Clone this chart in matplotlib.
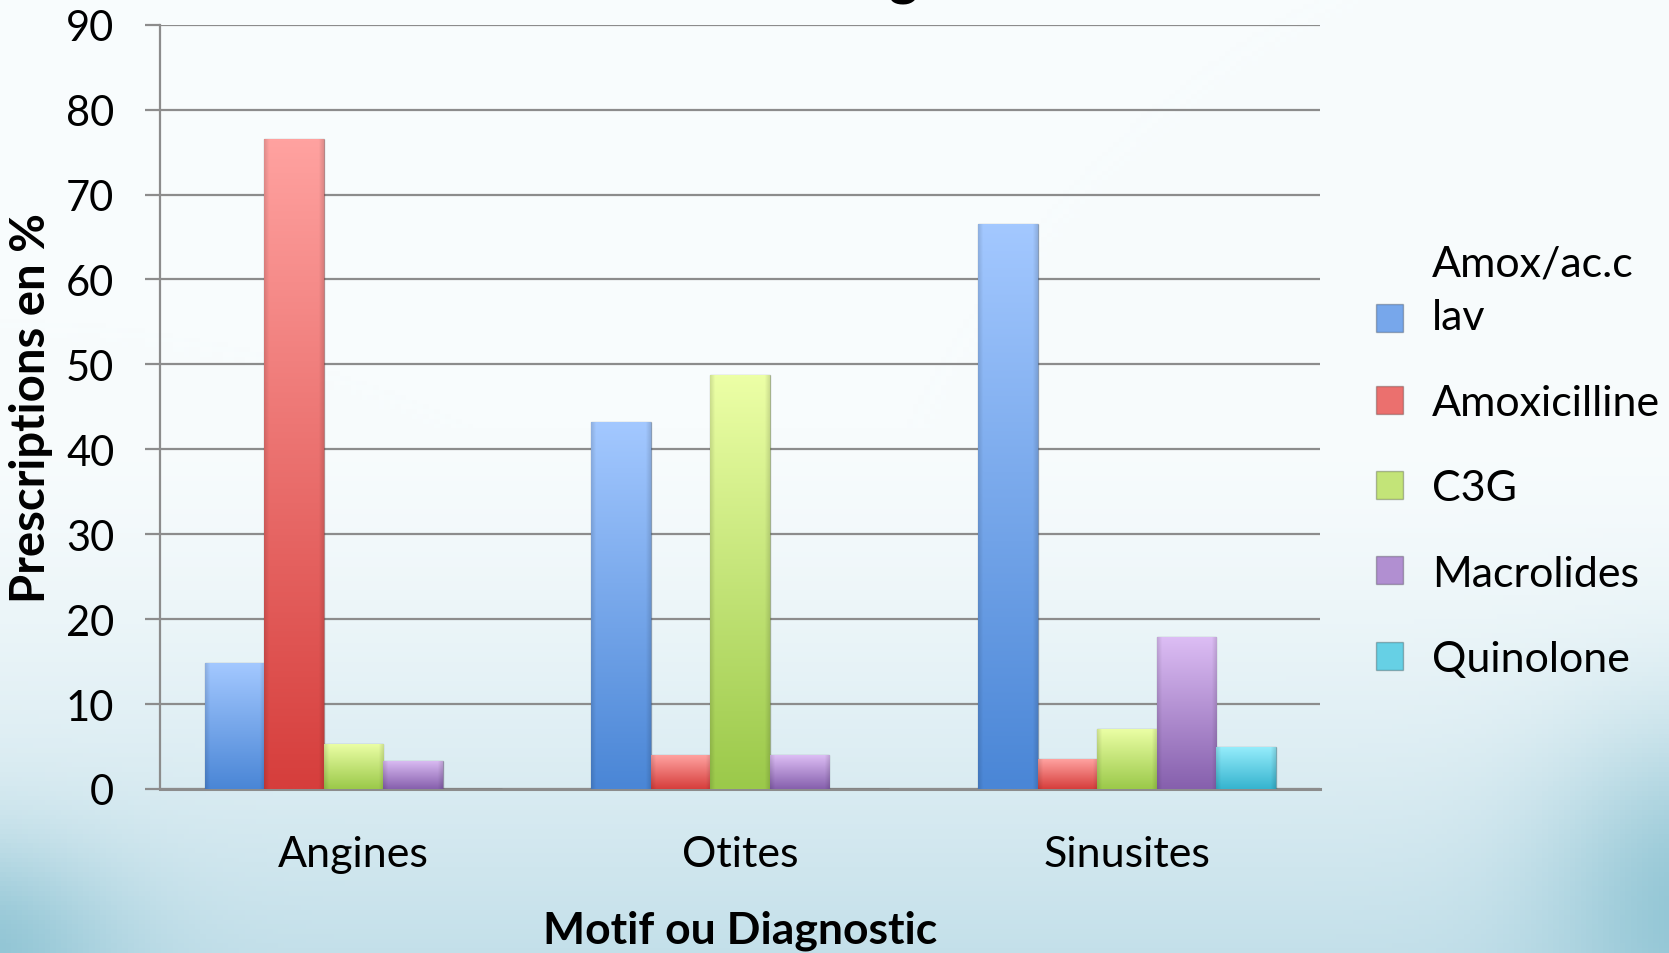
import numpy as np
import matplotlib.pyplot as plt
from matplotlib.colors import to_rgb
from matplotlib.patches import Patch

plt.rcParams['font.family'] = ['Lato', 'DejaVu Sans']

# data (percent of prescriptions)
categories = ['Angines', 'Otites', 'Sinusites']
series = ['Amox/ac.c\nlav', 'Amoxicilline', 'C3G', 'Macrolides', 'Quinolone']
amox_clav = [14.8, 43.2, 66.5]
amoxicilline = [76.6, 4.0, 3.5]
c3g = [5.3, 48.7, 7.1]
macrolides = [3.3, 4.0, 17.9]
quinolone = [0.0, 0.0, 4.9]
values = [amox_clav, amoxicilline, c3g, macrolides, quinolone]

# (top colour, bottom colour) of each series
colors = [('#a3c8ff', '#4a86d6'),
          ('#ffa2a0', '#d63e3c'),
          ('#ecffa6', '#9bc94a'),
          ('#dcbdf4', '#8660ad'),
          ('#95ecfb', '#36b4cf')]

fig = plt.figure(figsize=(16.69, 9.54), dpi=100)

# slide-like background
bg = fig.add_axes([0, 0, 1, 1], zorder=-1)
ny, nx = 200, 300
yy, xx = np.mgrid[0:1:ny * 1j, 0:1:nx * 1j]
top_c = np.array(to_rgb('#f8fcfd'))
bot_c = np.array(to_rgb('#c4e0ea'))
t = np.clip((yy - 0.45) / 0.55, 0, 1) ** 1.4
img = top_c * (1 - t[..., None]) + bot_c * t[..., None]
# darker teal swirl near the bottom corners
corner = np.exp(-((xx - 1.02) ** 2 / 0.008 + (yy - 0.95) ** 2 / 0.03))
corner += np.exp(-((xx + 0.02) ** 2 / 0.008 + (yy - 1.0) ** 2 / 0.012))
teal = np.array(to_rgb('#6fb3c6'))
img = img * (1 - 0.6 * corner[..., None]) + teal * 0.6 * corner[..., None]
bg.imshow(img, extent=[0, 1, 0, 1], aspect='auto', origin='upper')
bg.axis('off')

ax = fig.add_axes([0.0959, 0.172, 0.6951, 0.801])
ax.set_facecolor('none')

n = len(series)
width = 1 / (n + 1.5)
x = np.arange(len(categories))
handles = []
for i, (name, vals, (ctop, cbot)) in enumerate(zip(series, values, colors)):
    pos = x + (i - (n - 1) / 2) * width
    mid = tuple((np.array(to_rgb(ctop)) + np.array(to_rgb(cbot))) / 2)
    bars = ax.bar(pos, vals, width, color=mid, edgecolor='#00000040',
                  linewidth=1, zorder=3)
    # vertical gradient + darker edges for the bevel look
    g = np.linspace(0, 1, 128)[:, None]
    h = np.linspace(0, 1, 64)[None, :]
    edge = 1 - 0.12 * (np.clip(1 - np.minimum(h, 1 - h) / 0.08, 0, 1))
    rgb = (np.array(to_rgb(cbot)) * (1 - g[..., None])
           + np.array(to_rgb(ctop)) * g[..., None]) * edge[..., None]
    for p in bars:
        if p.get_height() <= 0:
            continue
        x0 = p.get_x()
        im = ax.imshow(np.clip(rgb, 0, 1), extent=[x0, x0 + p.get_width(), 0, p.get_height()],
                       origin='lower', aspect='auto', zorder=3.5)
        im.set_clip_path(p)
    handles.append(Patch(facecolor=mid, edgecolor='#00000040', label=name))

ax.set_xlim(-0.5, 2.5)
ax.set_ylim(0, 90)
ax.set_yticks(range(0, 91, 10))
ax.set_xticks(x)
ax.set_xticklabels(categories)
ax.yaxis.grid(True, color='#8c8c8c', linewidth=1.6, zorder=0)
ax.set_axisbelow(True)
for s in ['top', 'right']:
    ax.spines[s].set_visible(False)
ax.spines['left'].set_color('#8c8c8c')
ax.spines['left'].set_linewidth(1.6)
ax.spines['bottom'].set_color('#8c8c8c')
ax.spines['bottom'].set_linewidth(2.2)
ax.tick_params(axis='y', length=11, width=1.6, color='#8c8c8c',
               labelsize=30, pad=22)
ax.tick_params(axis='x', length=0, labelsize=31, pad=33)

ax.set_xlabel('Motif ou Diagnostic', fontsize=32, fontweight='bold')
ax.set_ylabel('Prescriptions en %', fontsize=34, fontweight='bold')
ax.xaxis.set_label_coords(0.5, -0.158)
ax.yaxis.set_label_coords(-0.092, 0.5)

leg = fig.legend(handles=handles, loc='upper left',
                 bbox_to_anchor=(1376 / 1669, 1 - 245 / 954), frameon=False,
                 fontsize=31, borderpad=0, borderaxespad=0, handlelength=0.63,
                 handleheight=0.63, handletextpad=0.67, labelspacing=1.1)
for txt in leg.get_texts():
    txt.set_linespacing(1.53)
# the first marker sits beside the second line of its label
first = leg.legend_handles[0]
first.set_y(first.get_y() - 20)

# title is cut off at the top of the original image: only a descender shows
fig.text(903 / 1669, 1 + 6 / 954, 'g', ha='center', va='baseline',
         fontsize=40, fontweight='bold')

fig.savefig('out.png', dpi=100)
